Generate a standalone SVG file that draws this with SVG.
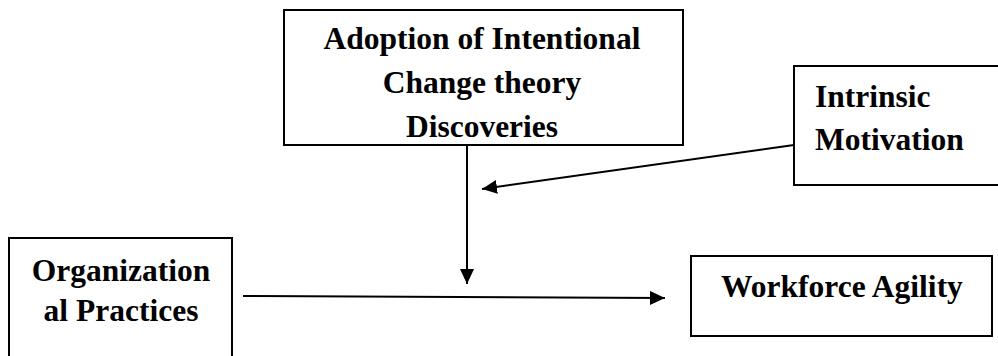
<svg xmlns="http://www.w3.org/2000/svg" width="998" height="356" viewBox="0 0 998 356">
<style>
.box{fill:#fff;stroke:#000;stroke-width:2}
.t{font-family:"Liberation Serif","Times New Roman",serif;font-weight:bold;font-size:31.5px;fill:#000}
.c{text-anchor:middle}
.ln{stroke:#000;stroke-width:2;fill:none}
</style>
<defs>
<marker id="ah" markerUnits="userSpaceOnUse" markerWidth="16" markerHeight="15" refX="15" refY="7" orient="auto">
<path d="M0,0 L15,7 L0,14 z" fill="#000"/>
</marker>
</defs>
<rect width="998" height="356" fill="#fff"/>
<g id="adoption">
<rect class="box" x="284" y="10" width="399" height="135"/>
<text class="t c" x="482" y="49">Adoption of Intentional</text>
<text class="t c" x="482" y="93">Change theory</text>
<text class="t c" x="482" y="137">Discoveries</text>
</g>
<g id="intrinsic">
<rect class="box" x="794" y="66" width="220" height="119"/>
<text class="t" x="815" y="107">Intrinsic</text>
<text class="t" x="815" y="150">Motivation</text>
</g>
<g id="organizational">
<rect class="box" x="9" y="238" width="223" height="130"/>
<text class="t c" x="121" y="281">Organization</text>
<text class="t c" x="121" y="321">al Practices</text>
</g>
<g id="workforce">
<rect class="box" x="691" y="256" width="301" height="80"/>
<text class="t c" x="842" y="297">Workforce Agility</text>
</g>
<g id="connectors">
<line class="ln" x1="467" y1="145" x2="467" y2="284" marker-end="url(#ah)"/>
<line class="ln" x1="794" y1="145" x2="482" y2="189" marker-end="url(#ah)"/>
<line class="ln" x1="243" y1="296" x2="665" y2="298" marker-end="url(#ah)"/>
</g>
</svg>
